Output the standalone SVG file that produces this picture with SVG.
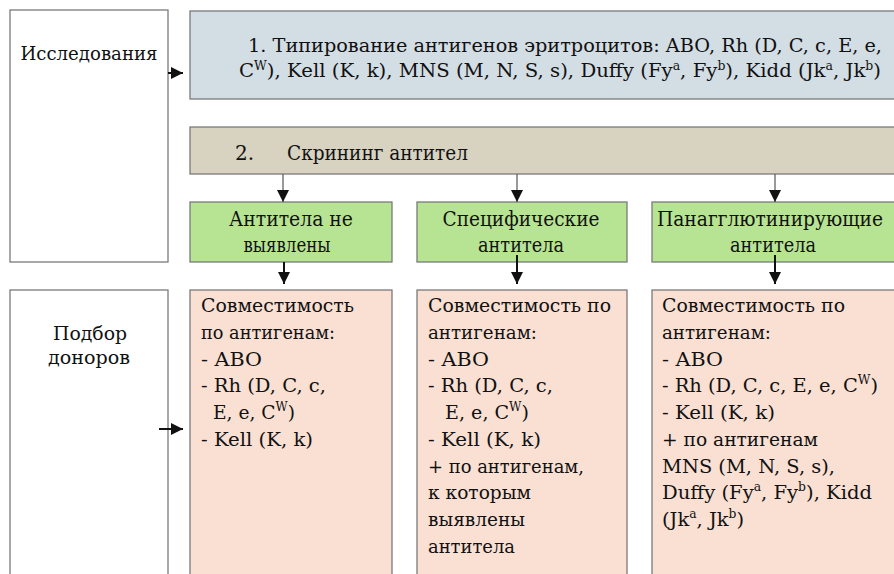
<svg xmlns="http://www.w3.org/2000/svg" width="894" height="574" viewBox="0 0 894 574">
<defs>
<style>
.box{stroke:#7a7a7a;stroke-width:1.3}
.white{fill:#ffffff}
.blue{fill:#d3dde4}
.tan{fill:#d8d3c1}
.green{fill:#b7e493}
.pink{fill:#f9e0d3}
.thin{stroke:#555;stroke-width:1.2;fill:none}
.thick{stroke:#111;stroke-width:2;fill:none}
.t{font-family:'DejaVu Serif',serif;font-size:19px;fill:#111}
.g{font-family:'DejaVu Serif',serif;font-size:20px;fill:#111}
.c{text-anchor:middle}
.s{font-size:12px}
</style>
<marker id="ah" markerUnits="userSpaceOnUse" markerWidth="12" markerHeight="12" refX="10" refY="5" orient="auto" viewBox="0 0 10 10">
<path d="M0,0 L10,5 L0,10 z" fill="#111"/>
</marker>
</defs>
<rect width="894" height="574" fill="#ffffff"/>

<g id="n_issled">
<rect class="box white" x="10" y="10" width="158" height="252"/>
<text class="t c" x="89" y="60" textLength="137" lengthAdjust="spacingAndGlyphs">Исследования</text>
</g>

<g id="n_typing">
<rect class="box blue" x="190" y="11" width="720" height="88"/>
<text class="t" x="248" y="52" textLength="634" lengthAdjust="spacingAndGlyphs">1.  Типирование антигенов эритроцитов: ABO, Rh (D, C, c, E, e,</text>
<text class="t" x="239" y="77" textLength="642" lengthAdjust="spacingAndGlyphs">C<tspan class="s" dy="-7">W</tspan><tspan dy="7">), Kell (K, k), MNS (M, N, S, s), Duffy (Fy</tspan><tspan class="s" dy="-7">a</tspan><tspan dy="7">, Fy</tspan><tspan class="s" dy="-7">b</tspan><tspan dy="7">), Kidd (Jk</tspan><tspan class="s" dy="-7">a</tspan><tspan dy="7">, Jk</tspan><tspan class="s" dy="-7">b</tspan><tspan dy="7">)</tspan></text>
</g>

<g id="n_screen">
<rect class="box tan" x="190" y="127" width="720" height="47"/>
<text class="g" x="235" y="160">2.</text>
<text class="g" x="287" y="160" textLength="181" lengthAdjust="spacingAndGlyphs">Скрининг антител</text>
</g>

<g id="n_none">
<rect class="box green" x="190" y="202" width="202" height="60"/>
<text class="g c" x="291" y="226" textLength="124" lengthAdjust="spacingAndGlyphs">Антитела не</text>
<text class="g c" x="287" y="252" textLength="87" lengthAdjust="spacingAndGlyphs">выявлены</text>
</g>

<g id="n_specific">
<rect class="box green" x="417" y="202" width="210" height="60"/>
<text class="g c" x="521" y="226" textLength="157" lengthAdjust="spacingAndGlyphs">Специфические</text>
<text class="g c" x="521" y="252" textLength="86" lengthAdjust="spacingAndGlyphs">антитела</text>
</g>

<g id="n_panagg">
<rect class="box green" x="652" y="202" width="260" height="60"/>
<text class="g c" x="770" y="226" textLength="226" lengthAdjust="spacingAndGlyphs">Панагглютинирующие</text>
<text class="g c" x="773" y="252" textLength="86" lengthAdjust="spacingAndGlyphs">антитела</text>
</g>

<g id="n_podbor">
<rect class="box white" x="10" y="290" width="158" height="300"/>
<text class="t c" x="90" y="340" textLength="74" lengthAdjust="spacingAndGlyphs">Подбор</text>
<text class="t c" x="89" y="364" textLength="82" lengthAdjust="spacingAndGlyphs">доноров</text>
</g>

<g id="n_comp1">
<rect class="box pink" x="190" y="290" width="202" height="300"/>
<text class="t" x="201" y="312" textLength="153" lengthAdjust="spacingAndGlyphs">Совместимость</text>
<text class="t" x="201" y="339" textLength="134" lengthAdjust="spacingAndGlyphs">по антигенам:</text>
<text class="t" x="201" y="366" textLength="61" lengthAdjust="spacingAndGlyphs">- ABO</text>
<text class="t" x="201" y="392" textLength="125" lengthAdjust="spacingAndGlyphs">- Rh (D, C, c,</text>
<text class="t" x="213" y="419" textLength="82" lengthAdjust="spacingAndGlyphs">E, e, C<tspan class="s" dy="-8">W</tspan><tspan dy="8">)</tspan></text>
<text class="t" x="201" y="446" textLength="112" lengthAdjust="spacingAndGlyphs">- Kell (K, k)</text>
</g>

<g id="n_comp2">
<rect class="box pink" x="417" y="290" width="210" height="300"/>
<text class="t" x="428" y="312" textLength="183" lengthAdjust="spacingAndGlyphs">Совместимость по</text>
<text class="t" x="428" y="339" textLength="109" lengthAdjust="spacingAndGlyphs">антигенам:</text>
<text class="t" x="428" y="366" textLength="61" lengthAdjust="spacingAndGlyphs">- ABO</text>
<text class="t" x="428" y="392" textLength="125" lengthAdjust="spacingAndGlyphs">- Rh (D, C, c,</text>
<text class="t" x="445" y="419" textLength="84" lengthAdjust="spacingAndGlyphs">E, e, C<tspan class="s" dy="-8">W</tspan><tspan dy="8">)</tspan></text>
<text class="t" x="428" y="446" textLength="113" lengthAdjust="spacingAndGlyphs">- Kell (K, k)</text>
<text class="t" x="428" y="473" textLength="156" lengthAdjust="spacingAndGlyphs">+ по антигенам,</text>
<text class="t" x="428" y="499" textLength="103" lengthAdjust="spacingAndGlyphs">к которым</text>
<text class="t" x="428" y="526" textLength="97" lengthAdjust="spacingAndGlyphs">выявлены</text>
<text class="t" x="428" y="553" textLength="87" lengthAdjust="spacingAndGlyphs">антитела</text>
</g>

<g id="n_comp3">
<rect class="box pink" x="652" y="290" width="260" height="300"/>
<text class="t" x="662" y="312" textLength="183" lengthAdjust="spacingAndGlyphs">Совместимость по</text>
<text class="t" x="662" y="339" textLength="109" lengthAdjust="spacingAndGlyphs">антигенам:</text>
<text class="t" x="662" y="366" textLength="61" lengthAdjust="spacingAndGlyphs">- ABO</text>
<text class="t" x="662" y="392" textLength="216" lengthAdjust="spacingAndGlyphs">- Rh (D, C, c, E, e, C<tspan class="s" dy="-8">W</tspan><tspan dy="8">)</tspan></text>
<text class="t" x="662" y="419" textLength="113" lengthAdjust="spacingAndGlyphs">- Kell (K, k)</text>
<text class="t" x="662" y="446" textLength="156" lengthAdjust="spacingAndGlyphs">+  по антигенам</text>
<text class="t" x="662" y="473" textLength="173" lengthAdjust="spacingAndGlyphs">MNS (M, N, S, s),</text>
<text class="t" x="662" y="499" textLength="210" lengthAdjust="spacingAndGlyphs">Duffy (Fy<tspan class="s" dy="-8">a</tspan><tspan dy="8">, Fy</tspan><tspan class="s" dy="-8">b</tspan><tspan dy="8">), Kidd</tspan></text>
<text class="t" x="662" y="526" textLength="82" lengthAdjust="spacingAndGlyphs">(Jk<tspan class="s" dy="-8">a</tspan><tspan dy="8">, Jk</tspan><tspan class="s" dy="-8">b</tspan><tspan dy="8">)</tspan></text>
</g>

<g id="connectors">
<line class="thick" x1="168" y1="73" x2="183" y2="73" marker-end="url(#ah)"/>
<line class="thick" x1="159" y1="429" x2="183" y2="429" marker-end="url(#ah)"/>
<line class="thin" x1="283" y1="174" x2="283" y2="202" marker-end="url(#ah)"/>
<line class="thin" x1="517" y1="174" x2="517" y2="202" marker-end="url(#ah)"/>
<line class="thin" x1="775" y1="174" x2="775" y2="202" marker-end="url(#ah)"/>
<line class="thick" x1="284" y1="262" x2="284" y2="284" marker-end="url(#ah)"/>
<line class="thick" x1="517" y1="255" x2="517" y2="284" marker-end="url(#ah)"/>
<line class="thick" x1="775" y1="255" x2="775" y2="284" marker-end="url(#ah)"/>
</g>
</svg>
